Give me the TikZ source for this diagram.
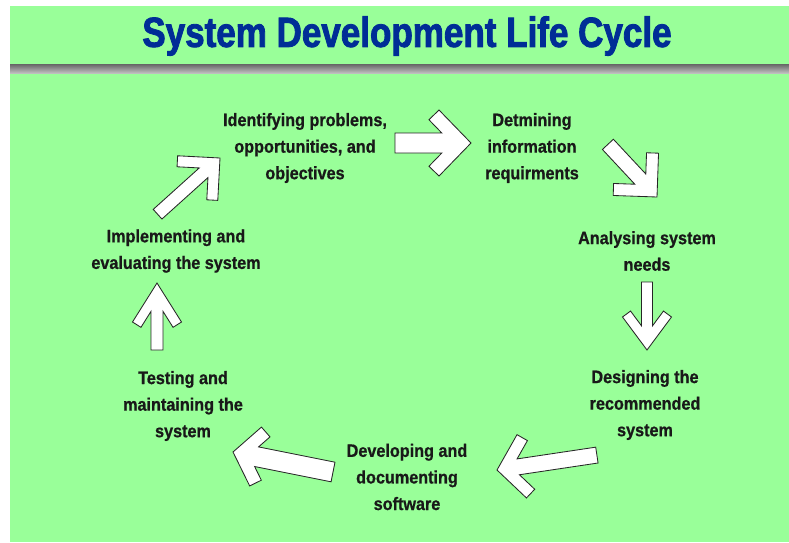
\documentclass[tikz,border=0pt]{standalone}
\usepackage{fontspec}
\newfontfamily\stagefont[FakeStretch=0.9,FakeBold=0.8]{Liberation Sans Bold}
\newfontfamily\headfont[FakeStretch=0.83,FakeBold=2]{Liberation Sans Bold}
\definecolor{sheetgreen}{RGB}{153,255,153}
\definecolor{headblue}{RGB}{0,45,150}
\tikzset{
  stage/.style={font=\stagefont\fontsize{12.8}{18.9}\selectfont, align=center, text=black!90, inner sep=0pt},
  arrowbox/.style={fill=white, draw=black!85, line width=0.6pt, line join=miter}
}
% chevron block arrow: tip x, tip y, angle, length, head half width, head depth, shaft half width, arm width
\newcommand{\chevarrow}[8]{%
  \pgfmathsetmacro\cvlen{veclen(#6,#5)}
  \pgfmathsetmacro\cvbx{-#6-#8*#5/\cvlen}
  \pgfmathsetmacro\cvby{#5-#8*#6/\cvlen}
  \pgfmathsetmacro\cvcx{\cvbx+(\cvby-#7)*#6/#5}
  \draw[arrowbox, shift={(#1,#2)}, rotate=#3]
    (0,0) -- (-#6,#5) -- (\cvbx,\cvby) -- (\cvcx,#7) -- (-#4,#7)
    -- (-#4,-#7) -- (\cvcx,-#7) -- (\cvbx,-\cvby) -- (-#6,-#5) -- cycle;
}
\begin{document}
\begin{tikzpicture}[x=0.025cm, y=-0.025cm]
    \useasboundingbox (0,0) rectangle (789,542);
    \fill[sheetgreen] (10,6) rectangle (789,542);
    % title and rule
    \node (title) at (407,36) {\headfont\fontsize{30}{36}\selectfont\color{headblue}System Development Life Cycle};
    \shade[top color=black!60, bottom color=black!25] (10,64) rectangle (789,73);
    % stages
    \node[stage] (identify) at (305,148) {Identifying problems,\\opportunities, and\\objectives};
    \node[stage] (require) at (532,148) {Detmining\\information\\requirments};
    \node[stage] (analyse) at (647,251) {Analysing system\\needs};
    \node[stage] (design) at (645,405) {Designing the\\recommended\\system};
    \node[stage] (develop) at (407,477) {Developing and\\documenting\\software};
    \node[stage] (testing) at (183,406) {Testing and\\maintaining the\\system};
    \node[stage] (implement) at (176,251) {Implementing and\\evaluating the system};
    % arrows round the cycle
    \chevarrow{471}{143}{0}{76}{33}{32}{10}{14}
    \chevarrow{657}{197}{-47}{72}{31}{31}{7.5}{12}
    \chevarrow{647}{350}{-90}{68}{24.5}{33}{5.5}{10}
    \chevarrow{497}{470}{-171.5}{101}{32}{25}{8}{12}
    \chevarrow{233}{452}{168.7}{102}{30}{23}{10}{13}
    \chevarrow{157}{283}{90}{67}{24.5}{39}{6}{10}
    \chevarrow{220}{158}{42}{84}{30}{30}{6.5}{11}
\end{tikzpicture}
\end{document}
